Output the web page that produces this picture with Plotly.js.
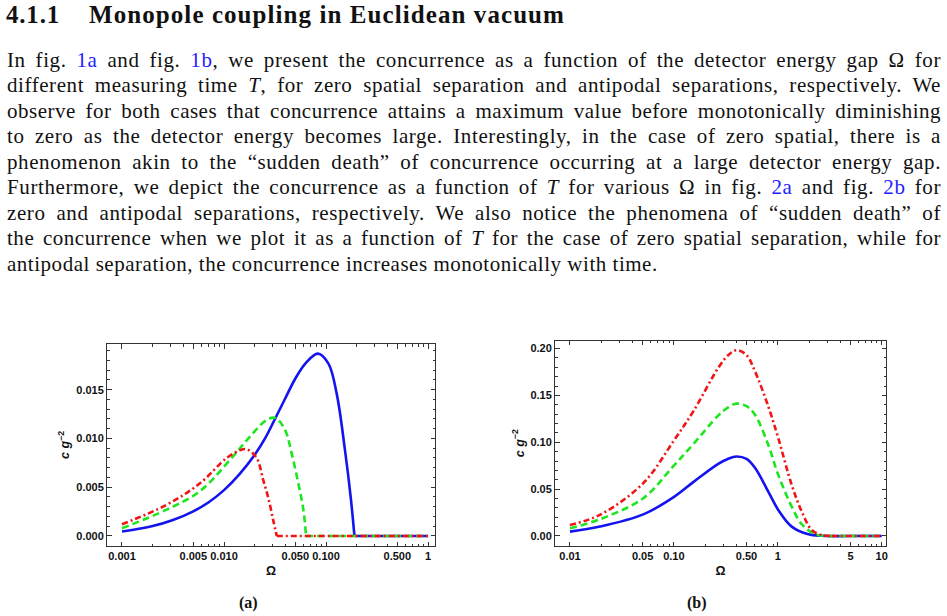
<!DOCTYPE html>
<html>
<head>
<meta charset="utf-8">
<script src="https://cdn.plot.ly/plotly-3.0.1.min.js"></script>
<style>
  html, body { margin: 0; padding: 0; background: #fff; }
  #page { position: relative; width: 947px; height: 616px; overflow: hidden; }
  #chart { position: absolute; left: 0; top: 0; width: 947px; height: 616px; }
  #text { position: absolute; left: 0; top: 0; width: 947px; height: 320px;
          font-family: "Liberation Serif", "Times New Roman", serif; color: #111; }
  .head { position: absolute; top: 0; font-size: 25px; font-weight: bold;
          line-height: 30px; white-space: nowrap; }
  .line { position: absolute; left: 7px; width: 934px; font-size: 21px;
          line-height: 25px; text-align: justify; text-align-last: justify; }
  .line.last { text-align-last: left; }
  .probe { position: absolute; visibility: hidden; white-space: nowrap; font-size: 21px; }
  .ref { color: #2222ff; }
</style>
</head>
<body>
<div id="page">
  <div id="chart"></div>
  <div id="text"></div>
</div>
<script>
// ---------- section text ----------
const sectionNumber = "4.1.1";
const sectionTitle = "Monopole coupling in Euclidean vacuum";
const paragraphLines = [
  'In fig. <span class="ref">1a</span> and fig. <span class="ref">1b</span>, we present the concurrence as a function of the detector energy gap Ω for',
  'different measuring time <i>T</i>, for zero spatial separation and antipodal separations, respectively. We',
  'observe for both cases that concurrence attains a maximum value before monotonically diminishing',
  'to zero as the detector energy becomes large. Interestingly, in the case of zero spatial, there is a',
  'phenomenon akin to the “sudden death” of concurrence occurring at a large detector energy gap.',
  'Furthermore, we depict the concurrence as a function of <i>T</i> for various Ω in fig. <span class="ref">2a</span> and fig. <span class="ref">2b</span> for',
  'zero and antipodal separations, respectively. We also notice the phenomena of “sudden death” of',
  'the concurrence when we plot it as a function of <i>T</i> for the case of zero spatial separation, while for',
  'antipodal separation, the concurrence increases monotonically with time.'
];

// ---------- panel (a): zero spatial separation ----------
const aTickVals = [0.001, 0.005, 0.01, 0.05, 0.1, 0.5, 1];
const aTickText = ["0.001", "0.005", "0.010", "0.050", "0.100", "0.500", "1"];
const aYTickVals = [0, 0.005, 0.01, 0.015];
const aYTickText = ["0.000", "0.005", "0.010", "0.015"];

const aBlueOmega = [0.001, 0.002, 0.00316, 0.005, 0.00708, 0.01, 0.01413, 0.01995, 0.0251, 0.0316, 0.0398, 0.0501, 0.063, 0.083, 0.1054, 0.1273, 0.1535, 0.1758, 0.19, 0.3, 0.6, 1];
const aBlueC     = [0.00045, 0.00102, 0.00164, 0.00253, 0.00346, 0.0047, 0.00632, 0.0083, 0.00995, 0.0120, 0.0141, 0.01615, 0.0177, 0.0187, 0.0177, 0.0146, 0.0088, 0.0037, 0, 0, 0, 0];

const aGreenOmega = [0.001, 0.00274, 0.00582, 0.01233, 0.018, 0.0262, 0.032, 0.0396, 0.046, 0.0535, 0.06, 0.0637, 0.1, 0.3, 1];
const aGreenC     = [0.00079, 0.0027, 0.0046, 0.0082, 0.0102, 0.0119, 0.0121, 0.0109, 0.0085, 0.0054, 0.0027, 0, 0, 0, 0];

const aRedOmega = [0.001, 0.00274, 0.00582, 0.0106, 0.01435, 0.0167, 0.0209, 0.0243, 0.0272, 0.0304, 0.0329, 0.05, 0.1, 0.3, 1];
const aRedC     = [0.0012, 0.0032, 0.0054, 0.0080, 0.0088, 0.0089, 0.0080, 0.0057, 0.0039, 0.0016, 0, 0, 0, 0, 0];

// ---------- panel (b): antipodal separation ----------
const bTickVals = [0.01, 0.05, 0.1, 0.5, 1, 5, 10];
const bTickText = ["0.01", "0.05", "0.10", "0.50", "1", "5", "10"];
const bYTickVals = [0, 0.05, 0.1, 0.15, 0.2];
const bYTickText = ["0.00", "0.05", "0.10", "0.15", "0.20"];

const bBlueOmega = [0.01, 0.0194, 0.0508, 0.0987, 0.1537, 0.267, 0.33, 0.40, 0.5, 0.603, 0.809, 1.01, 1.36, 1.97, 2.64, 5, 10];
const bBlueC     = [0.0046, 0.0100, 0.0230, 0.0412, 0.0575, 0.0770, 0.0822, 0.0848, 0.0822, 0.0727, 0.0474, 0.0278, 0.0100, 0.0018, 0.0002, 0, 0];

const bGreenOmega = [0.01, 0.0194, 0.0508, 0.0987, 0.1537, 0.267, 0.33, 0.40, 0.5, 0.603, 0.809, 1.01, 1.36, 1.70, 2.28, 3.06, 10];
const bGreenC     = [0.0082, 0.0178, 0.0403, 0.0745, 0.0980, 0.1285, 0.1370, 0.1412, 0.1385, 0.1294, 0.0973, 0.0652, 0.0314, 0.0125, 0.0020, 0, 0];

const bRedOmega = [0.01, 0.0194, 0.0508, 0.0987, 0.1537, 0.267, 0.33, 0.40, 0.5, 0.603, 0.809, 1.01, 1.36, 1.70, 2.12, 2.64, 3.3, 10];
const bRedC     = [0.0118, 0.0225, 0.0564, 0.1009, 0.1330, 0.1794, 0.1925, 0.1982, 0.1930, 0.1757, 0.1383, 0.1045, 0.0545, 0.026, 0.0064, 0.001, 0, 0];

// ---------- text block ----------
const textBox = document.getElementById("text");
const numEl = document.createElement("div");
numEl.className = "head";
numEl.style.left = "6px";
numEl.textContent = sectionNumber;
textBox.appendChild(numEl);
const titleEl = document.createElement("div");
titleEl.className = "head";
titleEl.style.left = "89px";
titleEl.textContent = sectionTitle;
textBox.appendChild(titleEl);

// stretch the heading pieces to their set widths
function fitWidth(el, target) {
  const n = el.textContent.length;
  const w = el.getBoundingClientRect().width;
  el.style.letterSpacing = ((target - w) / n) + "px";
}
fitWidth(numEl, 54);
fitWidth(titleEl, 476);

// paragraph: each line justified to the full measure; part of the slack
// goes into letter spacing so word gaps stay moderate
const measure = 934, firstLineCenter = 60, lineStep = 25.5;
let lastSpacing = 0.3;
paragraphLines.forEach((html, i) => {
  const isLast = i === paragraphLines.length - 1;
  const probe = document.createElement("span");
  probe.className = "probe";
  probe.innerHTML = html;
  textBox.appendChild(probe);
  const natural = probe.getBoundingClientRect().width;
  const n = probe.textContent.length;
  textBox.removeChild(probe);
  let ls = isLast ? lastSpacing : Math.max(-0.3, Math.min(0.6, 0.5 * (measure - 2 - natural) / n));
  if (!isLast) lastSpacing = ls;
  const d = document.createElement("div");
  d.className = "line" + (isLast ? " last" : "");
  d.style.top = (firstLineCenter + i * lineStep - 12.5) + "px";
  d.style.letterSpacing = ls + "px";
  d.innerHTML = html;
  textBox.appendChild(d);
});

// ---------- figure ----------
const W = 947, H = 616;
const frameColor = "#333";
const tickFont = { family: "Liberation Sans, Arial, sans-serif", size: 11, weight: "bold", color: "#111" };
const titleFont = { family: "Liberation Sans, Arial, sans-serif", size: 12.5, weight: "bold", color: "#111" };

function logMinors(lo, hi, majors) {
  const out = [];
  for (let e = lo; e < hi; e++) {
    for (let k = 2; k <= 9; k++) {
      const v = +(k * Math.pow(10, e)).toPrecision(3);
      if (!majors.some(m => Math.abs(m - v) / v < 1e-6)) out.push(v);
    }
  }
  return out;
}

function frameAxis(extra) {
  return Object.assign({
    showline: true, linecolor: frameColor, linewidth: 1, mirror: "ticks",
    ticks: "inside", ticklen: 4.5, tickwidth: 1, tickcolor: frameColor,
    showgrid: false, zeroline: false, fixedrange: true, tickfont: tickFont,
    tickangle: 0, automargin: false
  }, extra);
}

const lineW = 2.6;
const blue = "#1414f0", green = "#1ee61e", red = "#f01414";
const greenDash = "7px,4px", redDash = "6px,3px,2px,3px";

// each curve: smooth rising/falling part, then the flat zero tail drawn straight
function curve(x, y, color, dash, xa, ya) {
  let k = y.findIndex((v, i) => v === 0 && y.slice(i).every(w => w === 0));
  if (k < 0) k = y.length - 1;
  const base = { type: "scatter", mode: "lines", xaxis: xa, yaxis: ya, hoverinfo: "skip" };
  return [
    Object.assign({ x: x.slice(0, k + 1), y: y.slice(0, k + 1),
      line: { color: color, width: lineW, dash: dash, shape: "spline", smoothing: 1 } }, base),
    Object.assign({ x: x.slice(k), y: y.slice(k),
      line: { color: color, width: lineW, dash: dash, shape: "linear" } }, base)
  ];
}

const data = [].concat(
  curve(aBlueOmega, aBlueC, blue, "solid", "x", "y"),
  curve(aGreenOmega, aGreenC, green, greenDash, "x", "y"),
  curve(aRedOmega, aRedC, red, redDash, "x", "y"),
  curve(bBlueOmega, bBlueC, blue, "solid", "x2", "y2"),
  curve(bGreenOmega, bGreenC, green, greenDash, "x2", "y2"),
  curve(bRedOmega, bRedC, red, redDash, "x2", "y2")
);

const yTitleText = "<i>c</i> <i>g</i><sup>−2</sup>";
const captionFont = { family: "Liberation Serif, serif", size: 16, color: "#111" };

const layout = {
  width: W, height: H,
  margin: { l: 0, r: 0, t: 0, b: 0 },
  paper_bgcolor: "rgba(0,0,0,0)", plot_bgcolor: "#fff",
  showlegend: false,
  xaxis: frameAxis({
    type: "log", anchor: "y", domain: [107 / W, 435 / W], range: [-3.147, 0.0686],
    tickmode: "array", tickvals: aTickVals, ticktext: aTickText,
    minor: { tickmode: "array", tickvals: logMinors(-3, 0, aTickVals), ticks: "inside", ticklen: 2.5, tickcolor: frameColor },
    title: { text: "Ω", font: titleFont, standoff: 5 }
  }),
  yaxis: frameAxis({
    anchor: "x", domain: [1 - 546 / H, 1 - 344 / H], range: [-0.00103, 0.01969],
    tickmode: "array", tickvals: aYTickVals, ticktext: aYTickText,
    minor: { dtick: 0.001, tick0: 0, ticks: "inside", ticklen: 2.5, tickcolor: frameColor },
    title: { text: yTitleText, font: titleFont, standoff: 3 }
  }),
  xaxis2: frameAxis({
    type: "log", anchor: "y2", domain: [555 / W, 886 / W], range: [-2.144, 1.041],
    tickmode: "array", tickvals: bTickVals, ticktext: bTickText,
    minor: { tickmode: "array", tickvals: logMinors(-2, 1, bTickVals), ticks: "inside", ticklen: 2.5, tickcolor: frameColor },
    title: { text: "Ω", font: titleFont, standoff: 5 }
  }),
  yaxis2: frameAxis({
    anchor: "x2", domain: [1 - 546 / H, 1 - 340.5 / H], range: [-0.0107, 0.2086],
    tickmode: "array", tickvals: bYTickVals, ticktext: bYTickText,
    minor: { dtick: 0.01, tick0: 0, ticks: "inside", ticklen: 2.5, tickcolor: frameColor },
    title: { text: yTitleText, font: titleFont, standoff: 3 }
  }),
  annotations: [
    { text: "<b>(a)</b>", xref: "paper", yref: "paper", x: 248 / W, y: 1 - 603 / H,
      xanchor: "center", yanchor: "middle", showarrow: false, font: captionFont },
    { text: "<b>(b)</b>", xref: "paper", yref: "paper", x: 697 / W, y: 1 - 603 / H,
      xanchor: "center", yanchor: "middle", showarrow: false, font: captionFont }
  ]
};

Plotly.newPlot("chart", data, layout, { staticPlot: true, displayModeBar: false });
</script>
</body>
</html>
